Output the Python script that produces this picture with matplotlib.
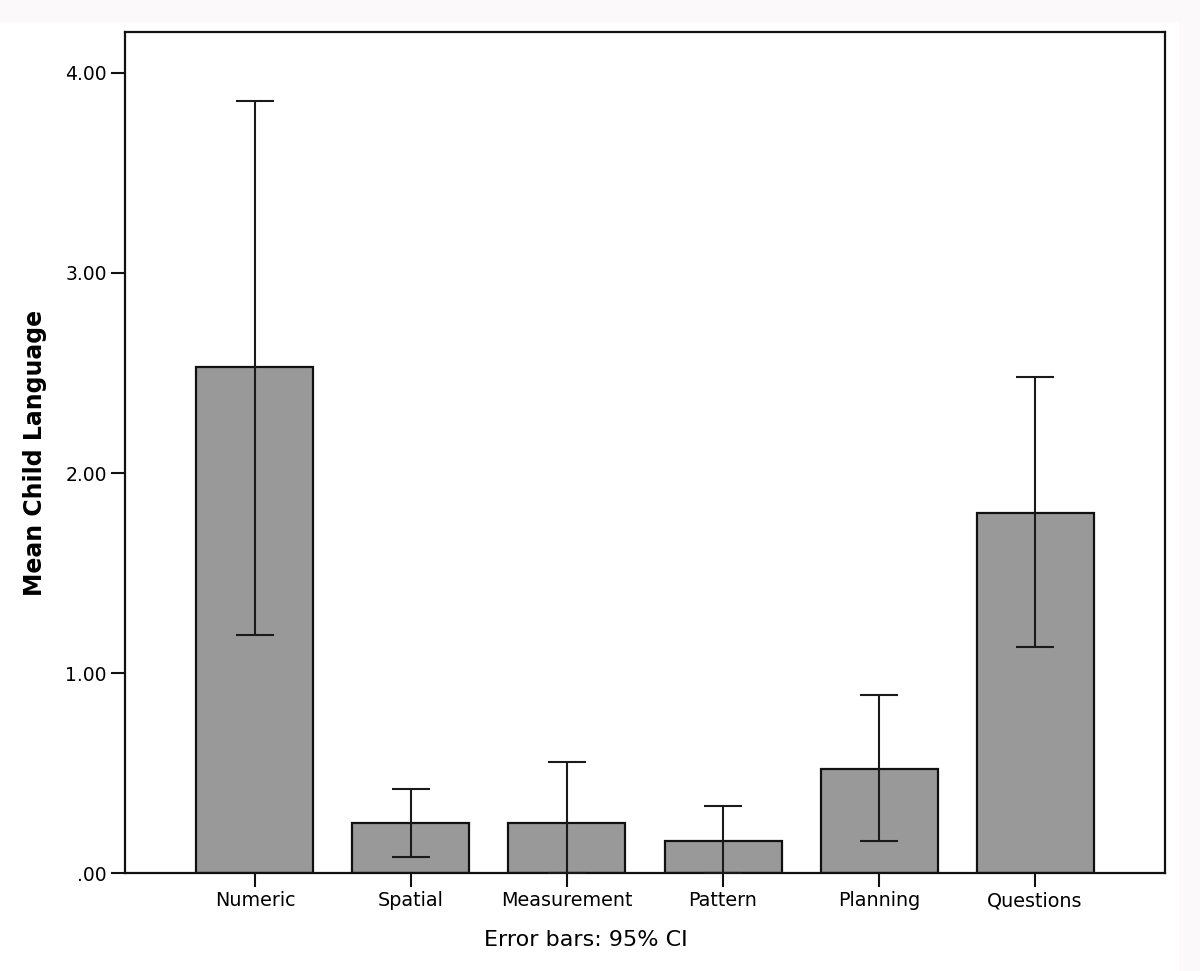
import numpy as np
import matplotlib
matplotlib.use('Agg')
from matplotlib import pyplot as plt
from matplotlib.patches import Rectangle

categories = ['Numeric', 'Spatial', 'Measurement', 'Pattern', 'Planning', 'Questions']
means = [2.53, 0.25, 0.25, 0.16, 0.52, 1.80]
ci_low = [1.19, 0.08, 0.00, 0.00, 0.16, 1.13]
ci_high = [3.86, 0.42, 0.555, 0.335, 0.89, 2.48]
yticks = [0, 1, 2, 3, 4]
ytick_labels = ['.00', '1.00', '2.00', '3.00', '4.00']

plt.rcParams['font.family'] = ['DejaVu Sans']

fig = plt.figure(figsize=(12, 9.71), dpi=100)
fig.patch.set_facecolor('white')
# light grey strips along the top and right edge of the screenshot
fig.patches.append(Rectangle((0, 1 - 22/971), 1, 22/971, transform=fig.transFigure,
                             facecolor='#fbf9f9', edgecolor='none', zorder=0))
fig.patches.append(Rectangle((1179/1200, 0), 1 - 1179/1200, 1, transform=fig.transFigure,
                             facecolor='#fbf9f9', edgecolor='none', zorder=0))

ax = fig.add_axes([125/1200, 98/971, 1040/1200, 841/971])

x = np.arange(len(categories))
m = np.array(means)
err = np.vstack([m - np.array(ci_low), np.array(ci_high) - m])

ax.bar(x, means, width=0.75, color='#999999', edgecolor='#111111', linewidth=1.6, zorder=2)
ax.errorbar(x, means, yerr=err, fmt='none', ecolor='#1a1a1a', elinewidth=1.5,
            capsize=14, capthick=1.5, zorder=3)

ax.set_xlim(-0.833, 5.833)
ax.set_ylim(0, 4.205)
ax.set_xticks(x)
ax.set_xticklabels(categories, fontsize=13.8)
ax.set_yticks(yticks)
ax.set_yticklabels(ytick_labels, fontsize=13.5)
ax.tick_params(axis='both', direction='out', length=10, width=1.5, color='#111111')
ax.tick_params(axis='x', pad=3)
ax.tick_params(axis='y', pad=3)

for s in ax.spines.values():
    s.set_linewidth(1.6)
    s.set_color('#111111')

ax.set_ylabel('Mean Child Language', fontsize=17, fontweight='bold')
ax.yaxis.set_label_coords(-90/1040, 0.5)
ax.yaxis.label.set_va('center')
fig.text(586/1200, 1 - 940/971, 'Error bars: 95% CI', fontsize=16, ha='center', va='center')

plt.savefig('out.png', dpi=100)
